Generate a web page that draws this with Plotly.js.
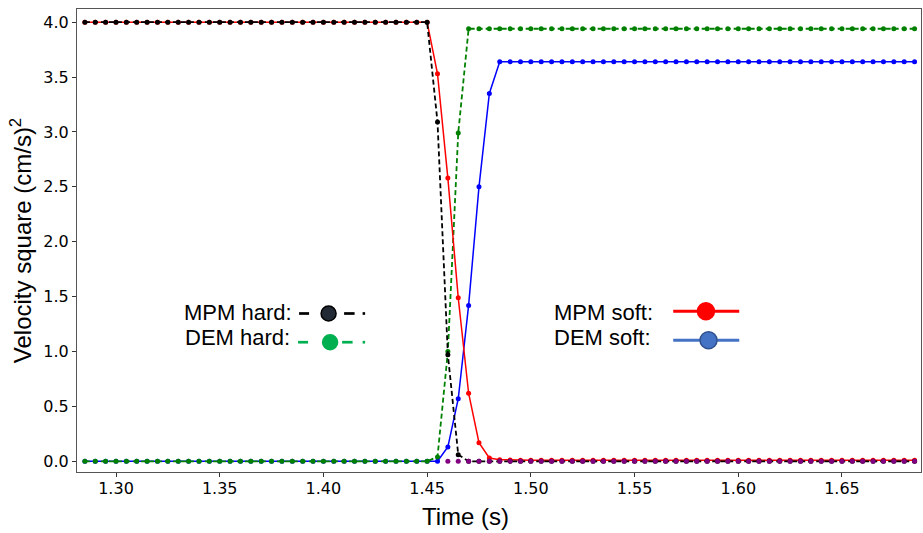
<!DOCTYPE html>
<html>
<head>
<meta charset="utf-8">
<script src="https://cdn.plot.ly/plotly-3.0.1.min.js"></script>
<style>html,body{margin:0;padding:0;background:#fff;}#chart{width:923px;height:533px;}</style>
</head>
<body>
<div id="chart"></div>
<script>
// Time samples (s)
var time = [
 1.285,1.290,1.295,1.300,1.305,1.310,1.315,1.320,1.325,1.330,
 1.335,1.340,1.345,1.350,1.355,1.360,1.365,1.370,1.375,1.380,
 1.385,1.390,1.395,1.400,1.405,1.410,1.415,1.420,1.425,1.430,
 1.435,1.440,1.445,1.450,1.455,1.460,1.465,1.470,1.475,1.480,
 1.485,1.490,1.495,1.500,1.505,1.510,1.515,1.520,1.525,1.530,
 1.535,1.540,1.545,1.550,1.555,1.560,1.565,1.570,1.575,1.580,
 1.585,1.590,1.595,1.600,1.605,1.610,1.615,1.620,1.625,1.630,
 1.635,1.640,1.645,1.650,1.655,1.660,1.665,1.670,1.675,1.680,
 1.685];

// MPM hard (black dashed)
var mpmHard = [
 4,4,4,4,4,4,4,4,4,4,
 4,4,4,4,4,4,4,4,4,4,
 4,4,4,4,4,4,4,4,4,4,
 4,4,4,4,3.09,0.97,0.06,0,0,0,
 0,0,0,0,0,0,0,0,0,0,
 0,0,0,0,0,0,0,0,0,0,
 0,0,0,0,0,0,0,0,0,0,
 0,0,0,0,0,0,0,0,0,0,
 0];

// MPM soft (red solid)
var mpmSoft = [
 4,4,4,4,4,4,4,4,4,4,
 4,4,4,4,4,4,4,4,4,4,
 4,4,4,4,4,4,4,4,4,4,
 4,4,4,4,3.53,2.58,1.49,0.62,0.17,0.03,
 0.015,0.012,0.01,0.01,0.01,0.01,0.01,0.01,0.01,0.01,
 0.01,0.01,0.01,0.01,0.01,0.01,0.01,0.01,0.01,0.01,
 0.01,0.01,0.01,0.01,0.01,0.01,0.01,0.01,0.01,0.01,
 0.01,0.01,0.01,0.01,0.01,0.01,0.01,0.01,0.01,0.01,
 0.01];

// DEM hard (green dashed)
var demHard = [
 0,0,0,0,0,0,0,0,0,0,
 0,0,0,0,0,0,0,0,0,0,
 0,0,0,0,0,0,0,0,0,0,
 0,0,0,0,0.04,1.0,2.99,3.94,3.94,3.94,
 3.94,3.94,3.94,3.94,3.94,3.94,3.94,3.94,3.94,3.94,
 3.94,3.94,3.94,3.94,3.94,3.94,3.94,3.94,3.94,3.94,
 3.94,3.94,3.94,3.94,3.94,3.94,3.94,3.94,3.94,3.94,
 3.94,3.94,3.94,3.94,3.94,3.94,3.94,3.94,3.94,3.94,
 3.94];

// DEM soft (blue solid)
var demSoft = [
 0,0,0,0,0,0,0,0,0,0,
 0,0,0,0,0,0,0,0,0,0,
 0,0,0,0,0,0,0,0,0,0,
 0,0,0,0,0,0.13,0.57,1.42,2.50,3.35,
 3.64,3.64,3.64,3.64,3.64,3.64,3.64,3.64,3.64,3.64,
 3.64,3.64,3.64,3.64,3.64,3.64,3.64,3.64,3.64,3.64,
 3.64,3.64,3.64,3.64,3.64,3.64,3.64,3.64,3.64,3.64,
 3.64,3.64,3.64,3.64,3.64,3.64,3.64,3.64,3.64,3.64,
 3.64];

// Resting ball (purple markers at zero after impact)
var restZero = [
 null,null,null,null,null,null,null,null,null,null,
 null,null,null,null,null,null,null,null,null,null,
 null,null,null,null,null,null,null,null,null,null,
 null,null,null,null,null,0,0,0,0,0,
 0,0,0,0,0,0,0,0,0,0,
 0,0,0,0,0,0,0,0,0,0,
 0,0,0,0,0,0,0,0,0,0,
 0,0,0,0,0,0,0,0,0,0,
 0];

var xTicks = [1.30,1.35,1.40,1.45,1.50,1.55,1.60,1.65];
var xTickText = ["1.30","1.35","1.40","1.45","1.50","1.55","1.60","1.65"];
var yTicks = [0,0.5,1,1.5,2,2.5,3,3.5,4];
var yTickText = ["0.0","0.5","1.0","1.5","2.0","2.5","3.0","3.5","4.0"];

var legendLabels = ["MPM hard:", "DEM hard:", "MPM soft:", "DEM soft:"];

var traces = [
  {x: time, y: demSoft, mode: 'lines+markers', name: 'DEM soft',
   line: {color: 'blue', width: 1.5}, marker: {color: 'blue', size: 5}},
  {x: time, y: demHard, mode: 'lines+markers', name: 'DEM hard',
   line: {color: 'green', width: 1.8, dash: '5px,3px'}, marker: {color: 'green', size: 5}},
  {x: time, y: mpmSoft, mode: 'lines+markers', name: 'MPM soft',
   line: {color: 'red', width: 1.5}, marker: {color: 'red', size: 5}},
  {x: time, y: mpmHard, mode: 'lines+markers', name: 'MPM hard',
   line: {color: 'black', width: 1.8, dash: '5px,3px'}, marker: {color: 'black', size: 5}},
  {x: time, y: restZero, mode: 'markers', name: 'rest',
   marker: {color: 'purple', size: 5}}
];

function px(x){ return (x - 77) / 843.7; }
function py(y){ return (471.7 - y) / 462.7; }

var shapes = [];
function seg(x0, x1, y, color, w){
  shapes.push({type:'line', xref:'paper', yref:'paper', x0:px(x0), x1:px(x1), y0:py(y), y1:py(y),
    line:{color:color, width:w}});
}
function dot(x, y, r, fill, edge){
  shapes.push({type:'circle', xref:'paper', yref:'paper', xsizemode:'pixel', ysizemode:'pixel',
    xanchor:px(x), yanchor:py(y), x0:-r, x1:r, y0:-r, y1:r,
    fillcolor:fill, line:{color:edge, width:1.5}});
}
// MPM hard symbol
seg(299, 309, 313.3, 'black', 2.7); seg(344, 354.5, 313.3, 'black', 2.7); seg(362.5, 365, 313.3, 'black', 2.7);
dot(328.5, 313.3, 7.5, '#222a35', '#000000');
// DEM hard symbol
seg(298, 308, 342, '#00b050', 2.7); seg(342, 352.5, 342, '#00b050', 2.7); seg(362.5, 365, 342, '#00b050', 2.7);
dot(330, 342, 7.5, '#00b050', '#00b050');
// MPM soft symbol
seg(673, 739, 311, '#ff0000', 3);
dot(705.7, 311, 8.5, '#ff0000', '#ff0000');
// DEM soft symbol
seg(673, 739, 340, '#4472c4', 3);
dot(708.3, 340, 8.5, '#4472c4', '#2f528f');

var legFont = {family: 'Liberation Sans, Arial, sans-serif', size: 22, color: 'black'};
var annotations = [
  {xref:'paper', yref:'paper', x:px(293.5), y:py(312.5), xanchor:'right', yanchor:'middle', text:legendLabels[0], showarrow:false, font:legFont},
  {xref:'paper', yref:'paper', x:px(292), y:py(337.5), xanchor:'right', yanchor:'middle', text:legendLabels[1], showarrow:false, font:legFont},
  {xref:'paper', yref:'paper', x:px(552), y:py(312.5), xanchor:'left', yanchor:'middle', text:legendLabels[2], showarrow:false, font:legFont},
  {xref:'paper', yref:'paper', x:px(552), y:py(337.5), xanchor:'left', yanchor:'middle', text:legendLabels[3], showarrow:false, font:legFont},
  {xref:'paper', yref:'paper', x:px(465), y:py(516), xanchor:'center', yanchor:'middle', text:'Time (s)', showarrow:false,
   font:{family:'Liberation Sans, Arial, sans-serif', size:24, color:'black'}}
];

var axisCommon = {
  showgrid: false, zeroline: false, showline: true, mirror: true,
  linecolor: '#555555', linewidth: 1, ticks: 'outside', ticklen: 4, tickwidth: 1, tickcolor: '#333333',
  tickfont: {family: 'DejaVu Sans, sans-serif', size: 16, color: 'black'}
};

var layout = {
  width: 923, height: 533,
  margin: {l: 77, r: 2, t: 9, b: 61, pad: 0},
  paper_bgcolor: 'white', plot_bgcolor: 'white',
  showlegend: false,
  xaxis: Object.assign({}, axisCommon, {
    range: [1.2812, 1.6881], tickmode: 'array', tickvals: xTicks, ticktext: xTickText,
    ticklabelstandoff: -2
  }),
  yaxis: Object.assign({}, axisCommon, {
    range: [-0.0975, 4.12], tickmode: 'array', tickvals: yTicks, ticktext: yTickText,
    title: {text: 'Velocity square (cm/s)<sup>2</sup>', standoff: 4,
            font: {family: 'Liberation Sans, Arial, sans-serif', size: 24, color: 'black'}}
  }),
  shapes: shapes,
  annotations: annotations
};

Plotly.newPlot('chart', traces, layout, {displayModeBar: false, staticPlot: true});
</script>
</body>
</html>
